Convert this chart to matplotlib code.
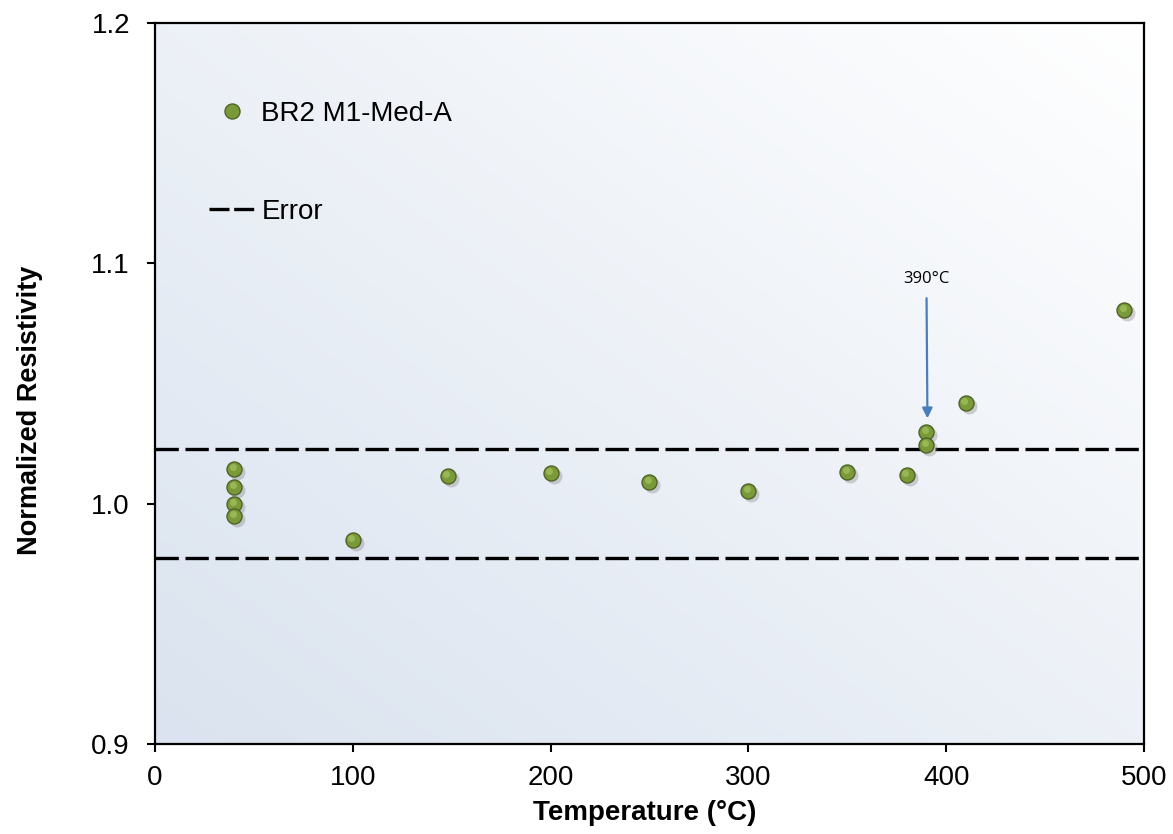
import numpy as np
import matplotlib
matplotlib.use("Agg")
import matplotlib.pyplot as plt
import matplotlib.transforms as mtransforms
from matplotlib.lines import Line2D

plt.rcParams['font.family'] = ['Liberation Sans', 'DejaVu Sans']

# data
temp = [40, 40, 40, 40, 100, 148, 200, 250, 300, 350, 380, 390, 390, 410, 490]
resist = [1.0146, 1.0069, 0.9998, 0.9947, 0.9847, 1.0114, 1.0126, 1.0089, 1.0051,
          1.0130, 1.0118, 1.0298, 1.0246, 1.0417, 1.0805]
err_hi = 1.0229
err_lo = 0.9773
x_ticks = [0, 100, 200, 300, 400, 500]
y_ticks = [0.9, 1.0, 1.1, 1.2]
y_ticklabels = ["0.9", "1.0", "1.1", "1.2"]

fig = plt.figure(figsize=(11.73, 8.34), dpi=100)
ax = fig.add_axes([0.1321, 0.1083, 0.8432, 0.8637])

# background gradient: light blue lower-left to white upper-right
gx, gy = np.meshgrid(np.linspace(0, 1, 200), np.linspace(0, 1, 200))
g = np.clip((gx + gy) / 2.0, 0, 1)
c0 = np.array([0.855, 0.890, 0.937])
c1 = np.array([1.0, 1.0, 1.0])
img = c0[None, None, :] * (1 - g[..., None]) + c1[None, None, :] * g[..., None]
ax.imshow(img, extent=[0, 1, 0, 1], transform=ax.transAxes, origin='lower',
          aspect='auto', zorder=0)

# error bands
for yv in (err_hi, err_lo):
    ax.axhline(yv, color='black', lw=2.4, dashes=(7, 2), zorder=2)

# shadows under markers
shadow = mtransforms.offset_copy(ax.transData, fig=fig, x=3, y=-3, units='dots')
ax.plot(temp, resist, 'o', ms=11.5, color='#808080', alpha=0.35, mec='none',
        transform=shadow, zorder=3)
ax.plot(temp, resist, 'o', ms=10.8, color='#7a9a3a', mec='#4f6228', mew=1.0,
        zorder=4)
# small highlight
hl = mtransforms.offset_copy(ax.transData, fig=fig, x=-1.5, y=2, units='dots')
ax.plot(temp, resist, 'o', ms=5, color='#a6c35e', mec='none', alpha=0.7,
        transform=hl, zorder=4.5)

# annotation
ax.annotate("390°C", xy=(390.5, 1.0355), xytext=(390, 1.0935),
            ha='center', va='center', fontsize=12, family=['Open Sans', 'DejaVu Sans'],
            arrowprops=dict(arrowstyle='-|>', color='#4a7ebb', lw=1.6,
                            mutation_scale=15, shrinkA=6, shrinkB=0),
            zorder=5)

ax.set_xlim(0, 500)
ax.set_ylim(0.9, 1.2)
ax.set_xticks(x_ticks)
ax.set_yticks(y_ticks)
ax.set_yticklabels(y_ticklabels)
ax.tick_params(axis='both', labelsize=20, width=1.5, length=6, direction='out',
               color='black')
ax.tick_params(axis='x', pad=9)
ax.tick_params(axis='y', pad=12)
for s in ax.spines.values():
    s.set_linewidth(1.6)
    s.set_color('black')

ax.set_xlabel("Temperature (°C)", fontsize=20, fontweight='bold')
ax.set_ylabel("Normalized Resistivity", fontsize=19.5, fontweight='bold')
ax.xaxis.set_label_coords(0.495, -0.078)
ax.yaxis.set_label_coords(-0.113, 0.463)

handles = [
    Line2D([], [], ls='none', marker='o', ms=10.8, color='#7a9a3a',
           mec='#4f6228', mew=1.0),
    Line2D([], [], color='black', lw=2.4, dashes=(6, 1.4)),
]
leg = ax.legend(handles, ["BR2 M1-Med-A", "Error"], loc='upper left',
                bbox_to_anchor=(0.029, 0.927), frameon=False, fontsize=20,
                labelspacing=2.6, handlelength=1.7, handletextpad=0.2)

fig.savefig("out.png", dpi=100)
